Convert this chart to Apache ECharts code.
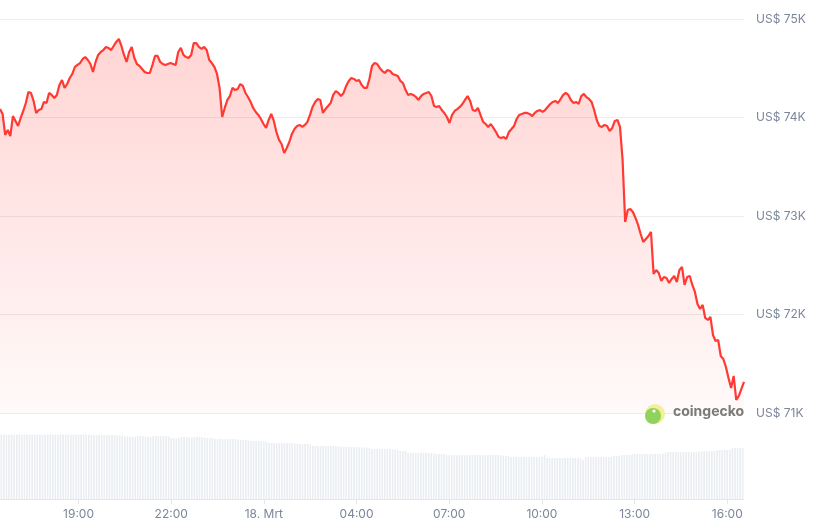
<!DOCTYPE html>
<html>
<head>
<meta charset="utf-8">
<script src="https://cdn.jsdelivr.net/npm/echarts@6/dist/echarts.min.js"></script>
<style>
html,body{margin:0;padding:0;background:#fff;}
#chart{width:828px;height:527px;}
</style>
</head>
<body>
<div id="chart"></div>
<script>
// ---- data (BTC price, 5-minute steps, 17 Mrt 16:30 -> 18 Mrt 16:30) ----
const startTime = '16:30';
const stepMinutes = 5;

const prices = [
74086,74036,73823,73873,73812,74015,73965,73914,73995,74066,74147,74259,
74249,74168,74046,74076,74086,74158,74147,74249,74229,74198,74229,74330,
74381,74300,74340,74401,74442,74513,74533,74553,74594,74614,74584,74543,
74462,74564,74635,74665,74685,74716,74706,74685,74726,74767,74797,74726,
74635,74564,74665,74716,74604,74543,74523,74493,74462,74452,74452,74533,
74625,74625,74564,74543,74533,74543,74553,74543,74533,74665,74706,74635,
74614,74604,74635,74756,74756,74716,74696,74716,74685,74584,74553,74513,
74442,74300,74005,74097,74178,74218,74300,74279,74290,74340,74320,74249,
74208,74158,74097,74056,74026,73985,73934,73894,73975,74036,73965,73853,
73772,73731,73640,73690,73751,73833,73883,73914,73924,73904,73924,73955,
74026,74107,74158,74188,74178,74046,74086,74117,74147,74229,74269,74249,
74218,74249,74320,74371,74401,74391,74371,74381,74330,74300,74300,74391,
74523,74553,74543,74503,74472,74452,74482,74472,74442,74432,74421,74371,
74350,74279,74229,74239,74229,74208,74178,74218,74239,74249,74259,74218,
74117,74107,74117,74076,74046,74005,73944,74026,74066,74086,74107,74137,
74178,74218,74168,74076,74066,74097,74026,73955,73934,73904,73934,73894,
73853,73802,73792,73802,73782,73853,73883,73914,73985,74026,74036,74046,
74046,74036,74015,74046,74066,74076,74056,74076,74107,74137,74158,74168,
74147,74188,74229,74249,74229,74178,74147,74158,74137,74218,74239,74208,
74188,74158,74076,73975,73914,73904,73924,73914,73863,73894,73965,73975,
73904,73569,72939,73061,73071,73041,72980,72909,72817,72736,72767,72797,
72838,72411,72452,72421,72340,72381,72371,72320,72361,72391,72330,72452,
72482,72300,72381,72391,72300,72229,72107,72056,72097,71965,71944,71975,
71792,71731,71741,71579,71548,71467,71356,71254,71376,71132,71173,71244,
71315
];

const volumeB = [
64.5,64.5,64.5,64.5,64.5,64,64.5,64.5,64.5,64.5,64.5,64.5,
64.5,64.5,64.5,64.5,64,64.5,64.5,64.5,64.5,64.5,64.5,64.5,
64.5,64.5,64.5,64.5,64.5,64.5,64.5,64.5,64.5,64.5,64.5,64,
64,64,64,64,64,64,64,64,64,63.5,63.5,63.5,
62.5,63,62,62.5,62.5,63,63,63,62.5,62.5,62,63,63,
63,63,63,63,62.5,
61,61,60.5,61,
62,62,62,61.5,61.5,62,62,62,61.5,61.5,61,61,61,
60,60,60,59.5,60,60,60,60,59.5,59.5,
59,59,59,58.5,
58,58,58,58,58,57.5,57.5,
56,56,56,56,56,56,56,56,56,56,55.5,55.5,
55,55,55,55,54.5,
53,53,53,53,53,53,53,53,53,53,52.5,52.5,
52,52,52,52,52,52,52,51.5,51.5,51.5,51,
50,50,50,50,50,50,50,50,49.5,49.5,49,
48,48,48,
46,46,46,46,46,46,46,46,46,45.5,45.5,
45,45,45,45,
44,44,44,44,44,44,44,44,44,44,44,44,44,44,44,44,44,44,44,44,44,43.5,43.5,43.5,43,
42,42,42,42,42,42,42,42,42,42,42,42,42,
44,
41,41,41,41,41,41,41,41,41,41,41,41,41,40.5,
39,
42,42,42,42,42,42,42,42,42,42,42.5,
43,43,43,
44,44,44,44,44.5,
45,45,45,45,45,45,45,45,45,45,45,45.5,46,
47,47,47,47,47,47,47,47,47,47,47,47,47.5,47.5,
48,48,48,48,48,48.5,
49,49,49,49,49.5,
51,51,51,51,51
];

const tickTimes  = ['19:00','22:00','01:00','04:00','07:00','10:00','13:00','16:00'];
const tickLabels = ['19:00','22:00','18. Mrt','04:00','07:00','10:00','13:00','16:00'];

const yTicks = [71000, 72000, 73000, 74000, 75000];

// ---- build time categories ----
function buildTimes(n) {
  const [h0, m0] = startTime.split(':').map(Number);
  const out = [];
  for (let i = 0; i < n; i++) {
    const t = (h0 * 60 + m0 + i * stepMinutes) % (24 * 60);
    const hh = String(Math.floor(t / 60)).padStart(2, '0');
    const mm = String(t % 60).padStart(2, '0');
    out.push(hh + ':' + mm);
  }
  return out;
}
const times = buildTimes(prices.length);

const labelColor = '#7b8699';
const FONT = 'Inter, "Noto Sans", sans-serif';

const chart = echarts.init(document.getElementById('chart'), null, {renderer: 'canvas'});
chart.setOption({
  animation: false,
  backgroundColor: '#ffffff',
  grid: [
    {left: 0, right: 84, top: 19, height: 394},
    {left: 0, right: 84, top: 419, height: 80}
  ],
  xAxis: [
    {
      type: 'category', gridIndex: 0, data: times, boundaryGap: false,
      axisLine: {show: false}, axisTick: {show: false}, axisLabel: {show: false},
      splitLine: {show: false}
    },
    {
      type: 'category', gridIndex: 1, data: times, boundaryGap: true,
      axisLine: {show: true, lineStyle: {color: '#e3e7ec', width: 1}},
      axisTick: {
        show: true, alignWithLabel: true, length: 5,
        lineStyle: {color: '#e3e7ec'},
        interval: (idx, val) => tickTimes.includes(val)
      },
      axisLabel: {
        show: true, color: labelColor, fontSize: 12, fontFamily: FONT, margin: 9,
        interval: (idx, val) => tickTimes.includes(val),
        formatter: (val) => {
          const k = tickTimes.indexOf(val);
          return k >= 0 ? tickLabels[k] : '';
        }
      },
      splitLine: {show: false}
    }
  ],
  yAxis: [
    {
      type: 'value', gridIndex: 0, position: 'right',
      min: yTicks[0], max: yTicks[yTicks.length - 1], interval: 1000,
      axisLine: {show: false}, axisTick: {show: false},
      axisLabel: {
        color: labelColor, fontSize: 12, fontFamily: FONT, margin: 12,
        formatter: (v) => 'US$ ' + (v / 1000) + 'K'
      },
      splitLine: {show: true, lineStyle: {color: '#ececec', width: 1}}
    },
    {
      type: 'value', gridIndex: 1, min: 0, max: 80,
      show: false, splitLine: {show: false}
    }
  ],
  series: [
    {
      type: 'bar', xAxisIndex: 1, yAxisIndex: 1, data: volumeB,
      barCategoryGap: '38%',
      itemStyle: {color: '#eaedf1'},
      silent: true, z: 1
    },
    {
      type: 'line', xAxisIndex: 0, yAxisIndex: 0, data: prices,
      showSymbol: false, symbol: 'none', smooth: false,
      lineStyle: {color: '#ff3a33', width: 2.2},
      areaStyle: {
        origin: 'start',
        color: new echarts.graphic.LinearGradient(0, 0, 0, 1, [
          {offset: 0, color: 'rgba(255,58,51,0.30)'},
          {offset: 1, color: 'rgba(255,58,51,0.04)'}
        ])
      },
      z: 3
    }
  ],
  graphic: [
    {type: 'circle', shape: {cx: 655, cy: 414, r: 10}, style: {fill: '#f3ef9a'}, z: 10},
    {type: 'circle', shape: {cx: 653, cy: 416, r: 8}, style: {fill: '#8fd35a'}, z: 11},
    {type: 'circle', shape: {cx: 654, cy: 411, r: 1.6}, style: {fill: '#ffffff'}, z: 12},
    {
      type: 'text', left: 673, top: 405, z: 12,
      style: {text: 'coingecko', fill: '#7a7a7a', font: 'bold 14px ' + FONT}
    }
  ]
});
</script>
</body>
</html>
